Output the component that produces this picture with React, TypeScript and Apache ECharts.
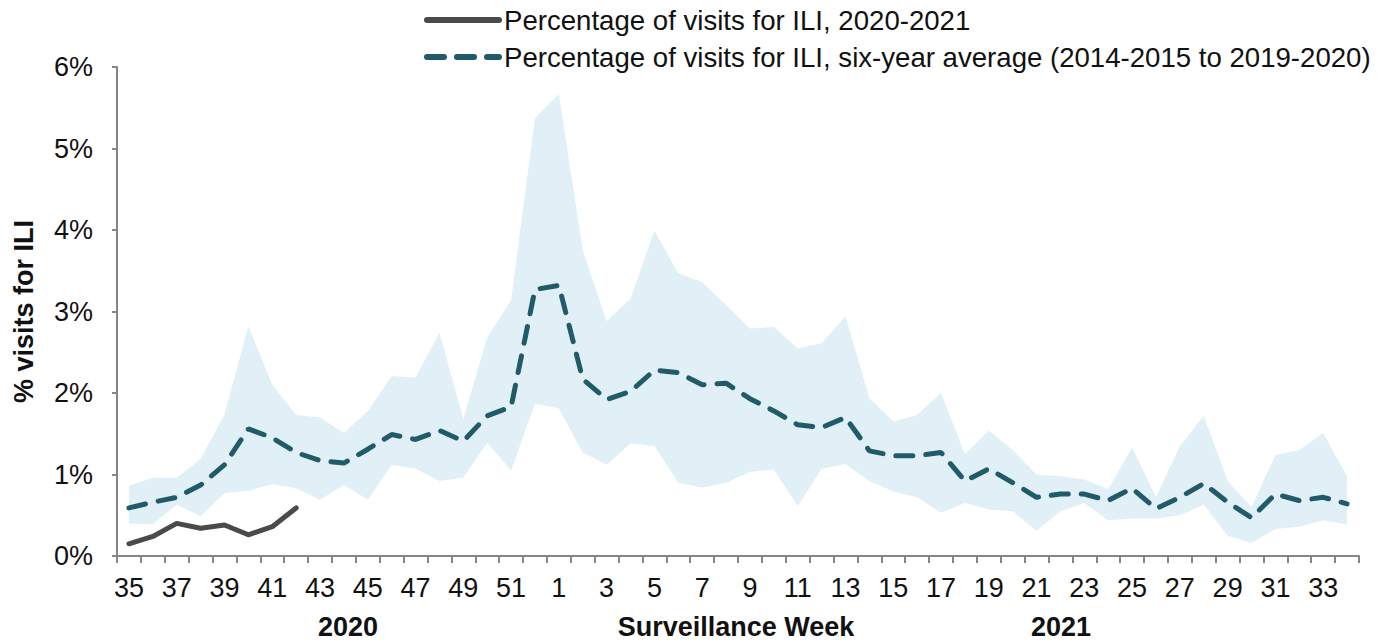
import React, { useEffect, useRef } from "react";
import * as echarts from "echarts";

const weeks: string[] = [
  "35","36","37","38","39","40","41","42","43","44","45","46","47","48","49","50","51","52",
  "1","2","3","4","5","6","7","8","9","10","11","12","13","14","15","16","17","18","19","20",
  "21","22","23","24","25","26","27","28","29","30","31","32","33","34",
];

const current: number[] = [0.15, 0.24, 0.40, 0.34, 0.38, 0.26, 0.36, 0.59];

const sixYearAvg: number[] = [
  0.59, 0.66, 0.72, 0.87, 1.12, 1.56, 1.45, 1.27, 1.17, 1.14, 1.31, 1.49, 1.43, 1.54, 1.41, 1.72, 1.83, 3.27,
  3.32, 2.17, 1.92, 2.02, 2.28, 2.25, 2.10, 2.12, 1.93, 1.78, 1.61, 1.575, 1.70, 1.29, 1.23, 1.23, 1.27, 0.92, 1.07, 0.90,
  0.72, 0.76, 0.76, 0.68, 0.83, 0.58, 0.72, 0.89, 0.66, 0.47, 0.76, 0.68, 0.72, 0.64,
];

const rangeUpper: number[] = [
  0.86, 0.96, 0.96, 1.19, 1.74, 2.82, 2.10, 1.73, 1.70, 1.51, 1.78, 2.21, 2.19, 2.74, 1.68, 2.68, 3.14, 5.37,
  5.67, 3.75, 2.88, 3.16, 3.99, 3.47, 3.36, 3.08, 2.79, 2.81, 2.55, 2.61, 2.94, 1.94, 1.65, 1.73, 2.00, 1.25, 1.54, 1.30,
  1.00, 0.98, 0.94, 0.82, 1.33, 0.72, 1.35, 1.72, 0.92, 0.60, 1.24, 1.30, 1.51, 0.98,
];

const rangeLower: number[] = [
  0.40, 0.39, 0.63, 0.49, 0.77, 0.80, 0.88, 0.83, 0.69, 0.87, 0.69, 1.12, 1.07, 0.92, 0.96, 1.39, 1.05, 1.87,
  1.81, 1.27, 1.12, 1.38, 1.35, 0.90, 0.84, 0.90, 1.03, 1.06, 0.61, 1.07, 1.13, 0.92, 0.79, 0.72, 0.53, 0.65, 0.57, 0.55,
  0.31, 0.55, 0.65, 0.44, 0.46, 0.46, 0.50, 0.63, 0.25, 0.16, 0.33, 0.36, 0.44, 0.39,
];

const CURRENT_NAME = "Percentage of visits for ILI, 2020-2021";
const AVG_NAME = "Percentage of visits for ILI, six-year average (2014-2015 to 2019-2020)";

const FONT = "'Liberation Sans', Arial, sans-serif";

export default function App() {
  const ref = useRef<HTMLDivElement>(null);

  useEffect(() => {
    if (!ref.current) return;
    const chart = echarts.init(ref.current, undefined, { renderer: "svg" });
    const rangeDiff = rangeUpper.map((u, i) => +(u - rangeLower[i]).toFixed(3));
    const bottomText = (text: string, x: number) => ({
      type: "text",
      x,
      y: 627,
      style: {
        text,
        font: `bold 27px ${FONT}`,
        fill: "#111",
        textAlign: "center",
        textVerticalAlign: "middle",
        lineHeight: 26,
      },
    });

    chart.setOption({
      animation: false,
      backgroundColor: "#ffffff",
      textStyle: { fontFamily: FONT },
      grid: { left: 117, right: 26, top: 67, bottom: 86 },
      legend: {
        orient: "vertical",
        left: 424,
        top: 6,
        padding: 0,
        itemWidth: 72,
        itemHeight: 14,
        itemGap: 9,
        data: [CURRENT_NAME, AVG_NAME],
        itemStyle: { opacity: 0 },
        lineStyle: { width: 6, cap: "round" },
        textStyle: { fontFamily: FONT, fontSize: 27.6, color: "#111", lineHeight: 28 },
      },
      xAxis: {
        type: "category",
        data: weeks,
        boundaryGap: true,
        axisLine: { lineStyle: { color: "#868686", width: 2 } },
        axisTick: { show: true, interval: 0, length: 7, lineStyle: { color: "#868686", width: 2 } },
        axisLabel: { interval: 1, fontSize: 27, color: "#111", margin: 18, fontFamily: FONT },
        splitLine: { show: false },
      },
      yAxis: {
        type: "value",
        min: 0,
        max: 6,
        interval: 1,
        name: "% visits for ILI",
        nameLocation: "middle",
        nameGap: 80,
        nameTextStyle: { fontSize: 27, fontWeight: "bold", color: "#111", fontFamily: FONT },
        axisLine: { show: true, lineStyle: { color: "#868686", width: 2 } },
        axisTick: { show: true, length: 5, lineStyle: { color: "#868686", width: 2 } },
        axisLabel: { formatter: "{value}%", fontSize: 27, color: "#111", margin: 24, fontFamily: FONT },
        splitLine: { show: false },
      },
      graphic: [
        bottomText("2020", 348),
        bottomText("Surveillance Week", 736),
        bottomText("2021", 1061),
      ],
      series: [
        {
          name: "rangeLower",
          type: "line",
          data: rangeLower,
          stack: "range",
          symbol: "none",
          lineStyle: { width: 0, opacity: 0 },
          silent: true,
        },
        {
          name: "rangeBand",
          type: "line",
          data: rangeDiff,
          stack: "range",
          symbol: "none",
          lineStyle: { width: 0, opacity: 0 },
          areaStyle: { color: "#E0F0F6", opacity: 1 },
          silent: true,
        },
        {
          name: AVG_NAME,
          type: "line",
          data: sixYearAvg,
          symbol: "none",
          color: "#215A69",
          lineStyle: { color: "#215A69", width: 5, type: [17, 13], cap: "round" },
        },
        {
          name: CURRENT_NAME,
          type: "line",
          data: current,
          symbol: "none",
          color: "#4A4A4A",
          lineStyle: { color: "#4A4A4A", width: 5, cap: "round", join: "round" },
        },
      ],
    });

    return () => chart.dispose();
  }, []);

  return (
    <div
      ref={ref}
      style={{ position: "absolute", left: 0, top: 0, width: 1385, height: 642, background: "#fff" }}
    />
  );
}
